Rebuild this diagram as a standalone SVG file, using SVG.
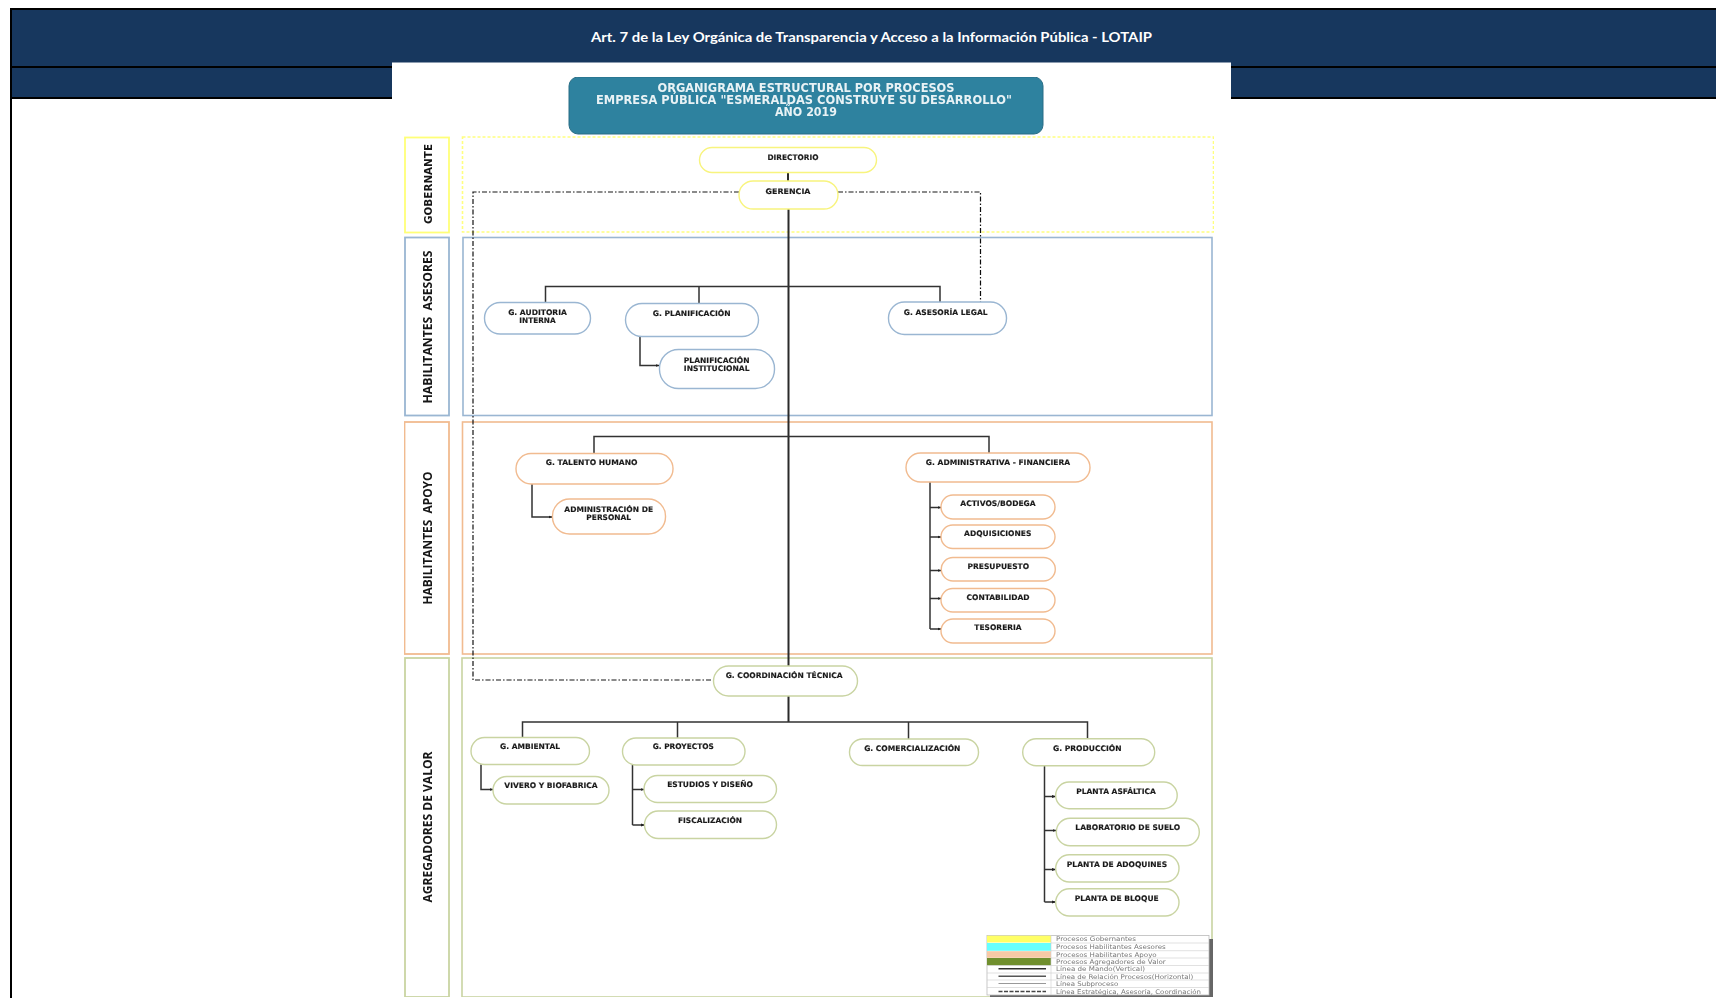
<svg xmlns="http://www.w3.org/2000/svg" width="1716" height="998" viewBox="0 0 1716 998">
<style>
.hd{fill:#17375e}
.bk{fill:#000}
.n{fill:#fff;stroke-width:1.4}
.y{stroke:#f8f47e}.b{stroke:#9ab6d2}.o{stroke:#f1bb90}.g{stroke:#c9d4a2}
.p{fill:none;stroke-width:1.6}
.side{fill:#fff;stroke-width:1.8}
.t{font-family:"DejaVu Sans",sans-serif;font-weight:700;font-size:7.6px;fill:#1a1a1a;stroke:#1a1a1a;stroke-width:.15;text-anchor:middle;transform:translateY(-.4px)}
.s{font-family:"Open Sans",sans-serif;font-weight:700;font-size:13px;fill:#161616;text-anchor:middle}
.tt{font-family:"DejaVu Sans",sans-serif;font-weight:700;font-size:11.5px;fill:#e8f2f5;text-anchor:middle}
.l{font-family:"DejaVu Sans",sans-serif;font-size:6.4px;fill:#777}
.c{fill:none;stroke:#333;stroke-width:1.5}
.m{fill:none;stroke:#2b2b2b;stroke-width:2}
.d{fill:none;stroke:#111;stroke-width:1.2;stroke-dasharray:5 2 1.5 2}
</style>
<defs>
<marker id="a" markerWidth="4" markerHeight="4" refX="3.5" refY="2" orient="auto" markerUnits="userSpaceOnUse"><path d="M0 .6L4 2L0 3.4Z" fill="#222"/></marker>
<filter id="soft" x="0" y="0" width="1" height="1"><feGaussianBlur stdDeviation="0.45"/></filter>
</defs>
<rect width="1716" height="998" fill="#fff"/>
<g id="header">
<rect class="hd" x="12" y="10" width="1704" height="87"/>
<rect class="bk" x="10" y="8" width="1706" height="2"/>
<rect class="bk" x="12" y="66" width="1704" height="2"/>
<rect class="bk" x="12" y="97" width="1704" height="2"/>
<rect class="bk" x="10" y="8" width="2" height="990"/>
<text x="871.5" y="41.8" textLength="561" lengthAdjust="spacingAndGlyphs" text-anchor="middle" font-family="Lato,'Liberation Sans',sans-serif" font-weight="700" font-size="13.5" fill="#fff">Art. 7 de la Ley Orgánica de Transparencia y Acceso a la Información Pública - LOTAIP</text>
</g>
<rect x="392" y="62.5" width="839" height="936" fill="#fff"/>
<g filter="url(#soft)">
<g id="title">
<rect x="569" y="77" width="474" height="57" rx="9" fill="#2f829f" stroke="#2a6d85"/>
<text class="tt" x="806" y="91.8" textLength="297" lengthAdjust="spacingAndGlyphs">ORGANIGRAMA ESTRUCTURAL POR PROCESOS</text>
<text class="tt" x="804" y="104" textLength="416" lengthAdjust="spacingAndGlyphs">EMPRESA PÚBLICA "ESMERALDAS CONSTRUYE SU DESARROLLO"</text>
<text class="tt" x="806" y="116" textLength="62" lengthAdjust="spacingAndGlyphs">AÑO 2019</text>
</g>
<g id="bandas">
<rect class="side y" x="405" y="137.5" width="44" height="95" style="stroke:#ffff78"/>
<text class="s" transform="translate(431.5 184) rotate(-90)" style="font-family:'DejaVu Sans',sans-serif;font-size:10.5px" textLength="80" lengthAdjust="spacingAndGlyphs">GOBERNANTE</text>
<rect class="p" x="462.5" y="137" width="751" height="95" stroke="#ffff80" stroke-dasharray="3 2"/>
<rect class="side b" x="405" y="237.5" width="44" height="178"/>
<text class="s" transform="translate(432 327) rotate(-90)" textLength="153" lengthAdjust="spacingAndGlyphs" xml:space="preserve">HABILITANTES  ASESORES</text>
<rect class="p b" x="463" y="237.5" width="749" height="178"/>
<rect class="side o" x="404.5" y="422" width="44.5" height="232"/>
<text class="s" transform="translate(432 538) rotate(-90)" textLength="133" lengthAdjust="spacingAndGlyphs" xml:space="preserve">HABILITANTES  APOYO</text>
<rect class="p o" x="462.5" y="422" width="749.5" height="232"/>
<rect class="side g" x="405" y="658" width="44" height="339"/>
<text class="s" transform="translate(432 827) rotate(-90)" textLength="151" lengthAdjust="spacingAndGlyphs">AGREGADORES DE VALOR</text>
<rect class="p g" x="462" y="658" width="750" height="339"/>
</g>
<g id="conectores">
<path class="m" d="M788 172V181M788.5 209V666M788.5 696V722"/>
<path class="d" d="M739 192H473V680H713M838 192H980.5V302"/>
<path class="c" d="M545.5 302V286.5H940V302M699 286.5V303"/>
<path class="c" d="M594 453V436.5H989V453"/>
<path class="c" d="M522.5 737V722H1087.5V738M677.5 722V738M908.5 722V739"/>
<path class="c" marker-end="url(#a)" d="M640 336V365.5H659"/>
<path class="c" marker-end="url(#a)" d="M532 484V517H552"/>
<path class="c" d="M930 482V629"/>
<path class="c" marker-end="url(#a)" d="M930 507.5H941"/>
<path class="c" marker-end="url(#a)" d="M930 537H941"/>
<path class="c" marker-end="url(#a)" d="M930 570.5H941"/>
<path class="c" marker-end="url(#a)" d="M930 598.5H941"/>
<path class="c" marker-end="url(#a)" d="M930 629H941"/>
<path class="c" marker-end="url(#a)" d="M481 764.5V789.5H493"/>
<path class="c" d="M632.5 765V825"/>
<path class="c" marker-end="url(#a)" d="M632.5 789.5H644"/>
<path class="c" marker-end="url(#a)" d="M632.5 825H644.5"/>
<path class="c" d="M1044.5 766V902"/>
<path class="c" marker-end="url(#a)" d="M1044.5 796.5H1055.5"/>
<path class="c" marker-end="url(#a)" d="M1044.5 830.5H1056"/>
<path class="c" marker-end="url(#a)" d="M1044.5 869.5H1055.5"/>
<path class="c" marker-end="url(#a)" d="M1044.5 902H1055.5"/>
</g>
<g id="directorio"><rect class="n y" x="699.5" y="147.5" width="177" height="25" rx="12.5"/><text class="t" x="793" y="160" textLength="51" lengthAdjust="spacingAndGlyphs">DIRECTORIO</text></g>
<g id="gerencia"><rect class="n y" x="739" y="181" width="99" height="28" rx="14"/><text class="t" x="788" y="194" textLength="45" lengthAdjust="spacingAndGlyphs">GERENCIA</text></g>
<g id="auditoria"><rect class="n b" x="484.5" y="302.5" width="106" height="31.5" rx="15.7"/><text class="t" x="537.5" y="315.5" textLength="58.7" lengthAdjust="spacingAndGlyphs">G. AUDITORIA</text><text class="t" x="537.5" y="323.5" textLength="36.3" lengthAdjust="spacingAndGlyphs">INTERNA</text></g>
<g id="planificacion"><rect class="n b" x="625.5" y="303.5" width="133" height="33" rx="16.5"/><text class="t" x="691.7" y="316.8" textLength="78" lengthAdjust="spacingAndGlyphs">G. PLANIFICACIÓN</text></g>
<g id="planificacion-institucional"><rect class="n b" x="659.5" y="349.5" width="115" height="39" rx="19"/><text class="t" x="716.7" y="363.5" textLength="65.7" lengthAdjust="spacingAndGlyphs">PLANIFICACIÓN</text><text class="t" x="716.7" y="371.8" textLength="65.7" lengthAdjust="spacingAndGlyphs">INSTITUCIONAL</text></g>
<g id="asesoria-legal"><rect class="n b" x="888.5" y="302" width="118" height="32.5" rx="16"/><text class="t" x="945.7" y="315" textLength="83.7" lengthAdjust="spacingAndGlyphs">G. ASESORÍA LEGAL</text></g>
<g id="talento-humano"><rect class="n o" x="516" y="453.5" width="157" height="30.5" rx="15"/><text class="t" x="591.7" y="465.8" textLength="91.7" lengthAdjust="spacingAndGlyphs">G. TALENTO HUMANO</text></g>
<g id="administracion-personal"><rect class="n o" x="552.5" y="499" width="113" height="35" rx="17"/><text class="t" x="608.7" y="512.5" textLength="88.7" lengthAdjust="spacingAndGlyphs">ADMINISTRACIÓN DE</text><text class="t" x="608.7" y="520.5" textLength="44.7" lengthAdjust="spacingAndGlyphs">PERSONAL</text></g>
<g id="administrativa-financiera"><rect class="n o" x="906" y="453" width="184" height="29" rx="14.5"/><text class="t" x="998" y="465" textLength="144.3" lengthAdjust="spacingAndGlyphs">G. ADMINISTRATIVA - FINANCIERA</text></g>
<g id="activos"><rect class="n o" x="941" y="495" width="114" height="24" rx="12"/><text class="t" x="998" y="506.8" textLength="75.3" lengthAdjust="spacingAndGlyphs">ACTIVOS/BODEGA</text></g>
<g id="adquisiciones"><rect class="n o" x="941" y="525" width="114" height="23.5" rx="11.7"/><text class="t" x="997.7" y="536.8" textLength="67.3" lengthAdjust="spacingAndGlyphs">ADQUISICIONES</text></g>
<g id="presupuesto"><rect class="n o" x="941.3" y="557.5" width="114" height="23.5" rx="11.7"/><text class="t" x="998.3" y="569.1" textLength="61.7" lengthAdjust="spacingAndGlyphs">PRESUPUESTO</text></g>
<g id="contabilidad"><rect class="n o" x="941" y="588.5" width="114" height="23.5" rx="11.7"/><text class="t" x="998" y="600.5" textLength="63" lengthAdjust="spacingAndGlyphs">CONTABILIDAD</text></g>
<g id="tesoreria"><rect class="n o" x="941" y="619" width="114" height="24" rx="12"/><text class="t" x="998" y="630.5" textLength="47.3" lengthAdjust="spacingAndGlyphs">TESORERIA</text></g>
<g id="coordinacion-tecnica"><rect class="n g" x="713.5" y="666" width="144" height="30" rx="15"/><text class="t" x="784.2" y="678.5" textLength="117" lengthAdjust="spacingAndGlyphs">G. COORDINACIÓN TÉCNICA</text></g>
<g id="ambiental"><rect class="n g" x="471" y="737.5" width="118.5" height="27" rx="13.5"/><text class="t" x="530" y="749.5" textLength="60" lengthAdjust="spacingAndGlyphs">G. AMBIENTAL</text></g>
<g id="vivero"><rect class="n g" x="493" y="776.5" width="116" height="27.5" rx="13.7"/><text class="t" x="551" y="788.8" textLength="93.3" lengthAdjust="spacingAndGlyphs">VIVERO Y BIOFABRICA</text></g>
<g id="proyectos"><rect class="n g" x="622.5" y="738" width="122.5" height="27" rx="13.5"/><text class="t" x="683.3" y="749.8" textLength="61.3" lengthAdjust="spacingAndGlyphs">G. PROYECTOS</text></g>
<g id="estudios"><rect class="n g" x="644" y="775.5" width="132.5" height="27" rx="13.5"/><text class="t" x="710" y="787.5" textLength="85.7" lengthAdjust="spacingAndGlyphs">ESTUDIOS Y DISEÑO</text></g>
<g id="fiscalizacion"><rect class="n g" x="644.5" y="811" width="132" height="27.5" rx="13.7"/><text class="t" x="710" y="823.5" textLength="64" lengthAdjust="spacingAndGlyphs">FISCALIZACIÓN</text></g>
<g id="comercializacion"><rect class="n g" x="849.5" y="739" width="129" height="26.5" rx="13"/><text class="t" x="912.3" y="751.5" textLength="96.3" lengthAdjust="spacingAndGlyphs">G. COMERCIALIZACIÓN</text></g>
<g id="produccion"><rect class="n g" x="1022.7" y="738.7" width="132" height="27" rx="13.5"/><text class="t" x="1087.3" y="751.5" textLength="68.7" lengthAdjust="spacingAndGlyphs">G. PRODUCCIÓN</text></g>
<g id="planta-asfaltica"><rect class="n g" x="1055.7" y="782" width="121.5" height="26.7" rx="13.3"/><text class="t" x="1116" y="794.8" textLength="79.7" lengthAdjust="spacingAndGlyphs">PLANTA ASFÁLTICA</text></g>
<g id="laboratorio-suelo"><rect class="n g" x="1056.3" y="818.3" width="143" height="27.4" rx="13.7"/><text class="t" x="1127.7" y="830.8" textLength="104.7" lengthAdjust="spacingAndGlyphs">LABORATORIO DE SUELO</text></g>
<g id="planta-adoquines"><rect class="n g" x="1055.7" y="854.7" width="123.3" height="27.3" rx="13.6"/><text class="t" x="1117" y="867.1" textLength="100.3" lengthAdjust="spacingAndGlyphs">PLANTA DE ADOQUINES</text></g>
<g id="planta-bloque"><rect class="n g" x="1055.7" y="888.7" width="123.3" height="27.3" rx="13.6"/><text class="t" x="1116.7" y="901.1" textLength="84" lengthAdjust="spacingAndGlyphs">PLANTA DE BLOQUE</text></g>
<g id="leyenda">
<rect x="990" y="939" width="223" height="58" fill="#666"/>
<rect x="987" y="935.5" width="222" height="59.5" fill="#fff" stroke="#bbb" stroke-width=".8"/>
<rect x="987" y="935.7" width="64" height="6.8" fill="#ffff66"/>
<rect x="987" y="943" width="64" height="7.8" fill="#66ffff"/>
<rect x="987" y="951.2" width="64" height="6.6" fill="#f7c9a6"/>
<rect x="987" y="958" width="64" height="7.3" fill="#6f8f2f"/>
<path d="M1051 935.5V995M1051 943H1209M1051 950.7H1209M1051 958H1209M987 965.5H1209M987 973H1209M987 980H1209M987 987.5H1209" fill="none" stroke="#ccc" stroke-width=".6"/>
<path d="M998.5 968.8H1046" stroke="#333" stroke-width="1.6" fill="none"/>
<path d="M998.5 976.3H1046" stroke="#555" stroke-width="1.5" fill="none"/>
<path d="M998.5 983.5H1046" stroke="#999" stroke-width="1" fill="none"/>
<path d="M998.5 991.5H1046" stroke="#444" stroke-width="1.3" stroke-dasharray="4 1.5" fill="none"/>
<text class="l" x="1056" y="941.2" textLength="80" lengthAdjust="spacingAndGlyphs">Procesos Gobernantes</text>
<text class="l" x="1056" y="948.9" textLength="109.7" lengthAdjust="spacingAndGlyphs">Procesos Habilitantes Asesores</text>
<text class="l" x="1056" y="956.5" textLength="100.7" lengthAdjust="spacingAndGlyphs">Procesos Habilitantes Apoyo</text>
<text class="l" x="1056" y="963.9" textLength="109.7" lengthAdjust="spacingAndGlyphs">Procesos Agregadores de Valor</text>
<text class="l" x="1056" y="971.2" textLength="89" lengthAdjust="spacingAndGlyphs">Línea de Mando(Vertical)</text>
<text class="l" x="1056" y="978.5" textLength="137.3" lengthAdjust="spacingAndGlyphs">Línea de Relación Procesos(Horizontal)</text>
<text class="l" x="1056" y="985.9" textLength="62.3" lengthAdjust="spacingAndGlyphs">Línea Subproceso</text>
<text class="l" x="1056" y="993.5" textLength="145" lengthAdjust="spacingAndGlyphs">Línea Estratégica, Asesoría, Coordinación</text>
</g>
</g>
</svg>
